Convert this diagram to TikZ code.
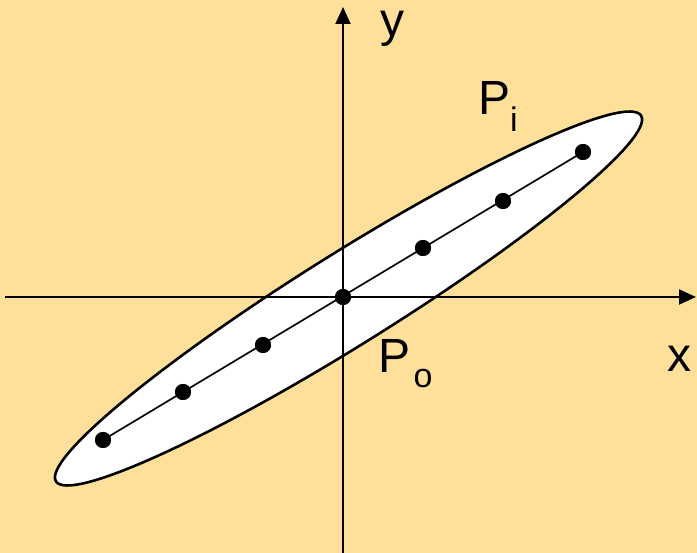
\documentclass[tikz,border=0pt]{standalone}
\usepackage{fontspec}
\setmainfont{Liberation Sans}
\usetikzlibrary{arrows.meta}
\definecolor{bgc}{RGB}{255,224,155}
\begin{document}
\begin{tikzpicture}[x=1pt,y=-1pt,
  axis/.style={line width=2pt,-{Triangle[length=17pt,width=15pt]}},
  dotpt/.style={circle,fill=black,inner sep=0pt,minimum size=16pt},
  big/.style={inner sep=0pt,anchor=base west,font=\fontsize{48}{56}\selectfont},
  small/.style={inner sep=0pt,anchor=base west,font=\fontsize{34}{40}\selectfont}]
\fill[bgc] (0,0) rectangle (697,553);
\useasboundingbox (0,0) rectangle (697,553);
% ellipse
\draw[line width=2.6pt,fill=white,rotate around={32:(348.5,298.5)}]
  (348.5,298.5) ellipse [x radius=345pt, y radius=46pt];
% axes
\coordinate (xs) at (5,297);
\coordinate (xe) at (696,297);
\coordinate (ys) at (343,553);
\coordinate (ye) at (343,7);
\draw[axis] (xs) -- (xe);
\draw[axis] (ys) -- (ye);
% points
\node[dotpt] (p1) at (103,440) {};
\node[dotpt] (p2) at (183,392) {};
\node[dotpt] (p3) at (263,345) {};
\node[dotpt] (p4) at (343,297) {};
\node[dotpt] (p5) at (423,248) {};
\node[dotpt] (p6) at (503,201) {};
\node[dotpt] (p7) at (583,152) {};
\draw[line width=1.7pt] (p1.center) -- (p7.center);
\foreach \n in {p1,p2,p3,p4,p5,p6,p7} \node[dotpt] at (\n) {};
% labels
\node[big] (ylab) at (380,37) {y};
\node[big] (xlab) at (667,372) {x};
\node[big] (pi) at (478,115) {P};
\node[small] (pisub) at (510,132) {i};
\node[big] (po) at (378,373) {P};
\node[small] (posub) at (413.5,388) {o};
\end{tikzpicture}
\end{document}
